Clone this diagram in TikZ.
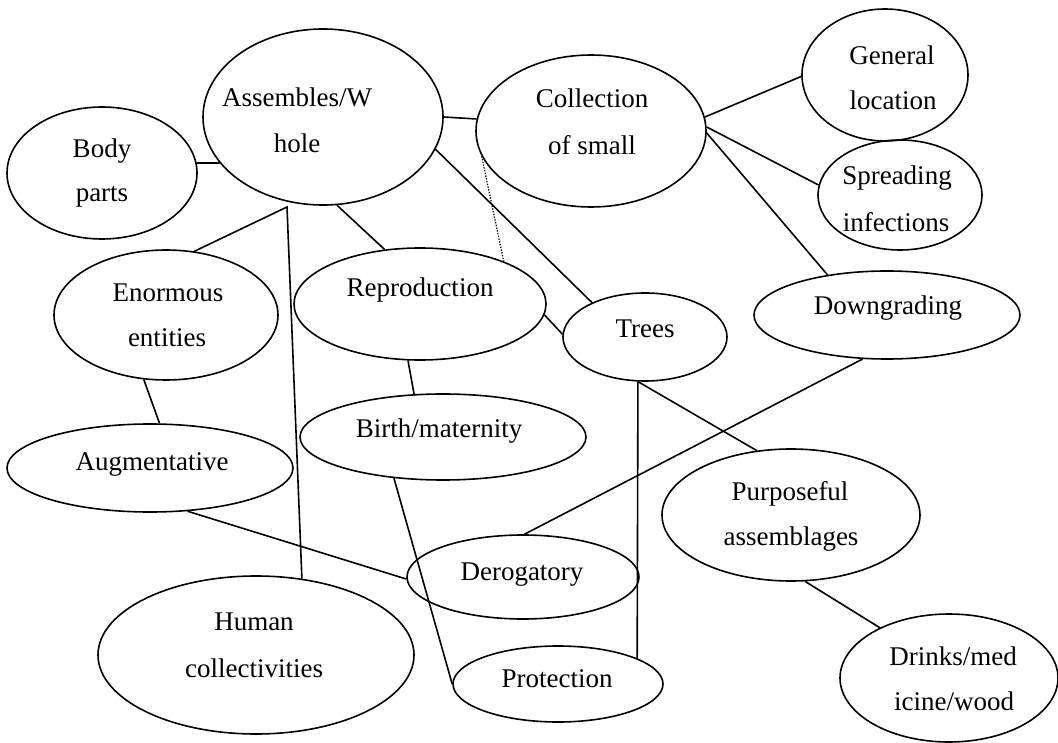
\documentclass[tikz,border=0pt]{standalone}
\usepackage{fontspec}
\setmainfont{Liberation Serif}
\usetikzlibrary{shapes.geometric}
\begin{document}
\begin{tikzpicture}[x=1pt,y=-1pt,
  bubble/.style={draw, ellipse, line width=1.6pt, inner sep=0pt},
  lbl/.style={anchor=base, inner sep=0pt, font=\fontsize{27}{32}\selectfont},
  link/.style={line width=1.6pt},
  dotlink/.style={line width=1.2pt, dash pattern=on 1.4pt off 1.4pt}]
\useasboundingbox (0,0) rectangle (1058,743);

% ellipses
\node[bubble, minimum width=190pt, minimum height=132pt] (body)   at (102,173) {};
\node[bubble, minimum width=240pt, minimum height=176pt] (assem)  at (323,117) {};
\node[bubble, minimum width=230pt, minimum height=152pt] (coll)   at (591,131) {};
\node[bubble, minimum width=166pt, minimum height=132pt] (gen)    at (885,75)  {};
\node[bubble, minimum width=164pt, minimum height=110pt] (spread) at (900,195) {};
\node[bubble, minimum width=224pt, minimum height=130pt] (enorm)  at (166,315) {};
\node[bubble, minimum width=252pt, minimum height=112pt] (repro)  at (420,304) {};
\node[bubble, minimum width=164pt, minimum height=88pt]  (trees)  at (645,337) {};
\node[bubble, minimum width=266pt, minimum height=88pt]  (down)   at (887,315) {};
\node[bubble, minimum width=286pt, minimum height=86pt]  (birth)  at (443,437) {};
\node[bubble, minimum width=286pt, minimum height=88pt]  (augm)   at (150,468) {};
\node[bubble, minimum width=258pt, minimum height=132pt] (purp)   at (791,515) {};
\node[bubble, minimum width=232pt, minimum height=84pt]  (derog)  at (523,577) {};
\node[bubble, minimum width=316pt, minimum height=158pt] (human)  at (256,655) {};
\node[bubble, minimum width=210pt, minimum height=76pt]  (prot)   at (558,684) {};
\node[bubble, minimum width=218pt, minimum height=128pt] (drinks) at (949,678) {};

% labels
\node[lbl] (tbody1)   at (102,158) {Body};
\node[lbl] (tbody2)   at (102,202) {parts};
\node[lbl] (tassem1)  at (297,107) {Assembles/W};
\node[lbl] (tassem2)  at (297,153) {hole};
\node[lbl] (tcoll1)   at (592,108) {Collection};
\node[lbl] (tcoll2)   at (592,155) {of small};
\node[lbl] (tgen1)    at (892,65)  {General};
\node[lbl] (tgen2)    at (893,110) {location};
\node[lbl] (tspread1) at (897,185) {Spreading};
\node[lbl] (tspread2) at (896,232) {infections};
\node[lbl] (tenorm1)  at (168,302) {Enormous};
\node[lbl] (tenorm2)  at (167,347) {entities};
\node[lbl] (trepro)   at (420,297) {Reproduction};
\node[lbl] (ttrees)   at (645,338) {Trees};
\node[lbl] (tdown)    at (888,315) {Downgrading};
\node[lbl] (tbirth)   at (439,437) {Birth/maternity};
\node[lbl] (taugm)    at (152,470) {Augmentative};
\node[lbl] (tpurp1)   at (790,500) {Purposeful};
\node[lbl] (tpurp2)   at (791,545) {assemblages};
\node[lbl] (tderog)   at (522,580) {Derogatory};
\node[lbl] (thuman1)  at (254,630) {Human};
\node[lbl] (thuman2)  at (254,677) {collectivities};
\node[lbl] (tprot)    at (557,687) {Protection};
\node[lbl] (tdrinks1) at (953,665) {Drinks/med};
\node[lbl] (tdrinks2) at (954,710) {icine/wood};

% junction below the whole-ellipse
\coordinate (apex) at (287,207);

% connectors
\draw[link] (body.6) -- (assem.204);
\draw[link] (assem.0) -- (coll.174.5);
\draw[link] (assem.-16.7) -- (trees.147.3);
\draw[link] (assem.-81.6) -- (repro.123.2);
\draw[link] (enorm.66) -- (apex) -- (human.59.5);
\draw[link] (coll.7.9) -- (gen.181.4);
\draw[link] (coll.2.9) -- (spread.173);
\draw[link] (coll.-1) -- (down.146.3);
\draw[dotlink] (coll.193.4) -- (repro.27.6);
\draw[link] (repro.-5.9) -- (trees.178.6);
\draw[link] (repro.-102) -- (birth.124.9);
\draw[link] (enorm.-109.5) -- (augm.78.4);
\draw[link] (augm.-49.2) -- (derog.181.5);
\draw[link] (birth.-140.4) -- (prot.180.5);
\draw[link] (down.-119.6) -- (derog.88.6);
\draw[link] (trees.-99) -- (prot.18.9);
\draw[link] (trees.-99) -- (purp.118.4);
\draw[link] (purp.-78) -- (drinks.144.8);
\end{tikzpicture}
\end{document}
